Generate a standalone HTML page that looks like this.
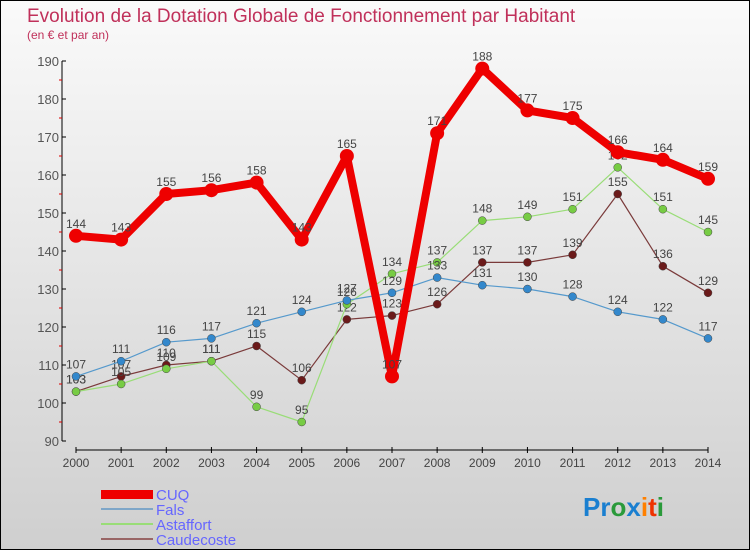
<!DOCTYPE html>
<html><head><meta charset="utf-8"><style>
body{margin:0;width:750px;height:550px;overflow:hidden;font-family:"Liberation Sans",sans-serif}
#wrap{position:relative;width:748px;height:548px;border:1px solid #000;background:linear-gradient(#fafafa,#cfcfcf)}
</style></head><body>
<div id="wrap">
<svg id="chart" width="748" height="548" style="position:absolute;left:0;top:0">
<text x="26" y="21" font-size="19" fill="#c0305a">Evolution de la Dotation Globale de Fonctionnement par Habitant</text>
<text x="26" y="38" font-size="12" fill="#c0305a">(en € et par an)</text>
<g id="axes"></g><g id="series"></g>
<g>
<rect x="100" y="489" width="52" height="9" fill="#e00"/>
<text x="155" y="499" font-size="15" fill="#6666ff">CUQ</text>
<rect x="100" y="507" width="52" height="2" fill="#7ea6c8"/>
<text x="155" y="514" font-size="15" fill="#6666ff">Fals</text>
<rect x="100" y="522" width="52" height="2" fill="#99dd77"/>
<text x="155" y="529" font-size="15" fill="#6666ff">Astaffort</text>
<rect x="100" y="537" width="52" height="2" fill="#996666"/>
<text x="155" y="544" font-size="15" fill="#6666ff">Caudecoste</text>
</g>
<text x="582" y="515" font-size="26" font-weight="bold"><tspan fill="#1a7fd0">Pr</tspan><tspan fill="#2a9a3a">o</tspan><tspan fill="#1a7fd0">x</tspan><tspan fill="#ff8000">i</tspan><tspan fill="#ee3300">t</tspan><tspan fill="#2a9a3a">i</tspan></text>
</svg>
</div>
<script>
const years=[2000,2001,2002,2003,2004,2005,2006,2007,2008,2009,2010,2011,2012,2013,2014];
const cuq=[144,143,155,156,158,143,165,107,171,188,177,175,166,164,159];
const fals=[107,111,116,117,121,124,127,129,133,131,130,128,124,122,117];
const astaffort=[103,105,109,111,99,95,126,134,137,148,149,151,162,151,145];
const caudecoste=[103,107,110,111,115,106,122,123,126,137,137,139,155,136,129];
const yTicks=[90,100,110,120,130,140,150,160,170,180,190];
const NS='http://www.w3.org/2000/svg';
const xs=i=>75+i*(707-75)/(years.length-1);
const ys=v=>440-(v-90)*3.8;
function mk(tag,attrs,parent){const e=document.createElementNS(NS,tag);for(const k in attrs)e.setAttribute(k,attrs[k]);parent.appendChild(e);return e;}
const ax=document.getElementById('axes');
let l=mk('line',{x1:61,y1:60,x2:61,y2:440,stroke:'#000'},ax);


l=mk('line',{x1:75,y1:449,x2:707,y2:449,stroke:'#000'},ax);


yTicks.forEach(v=>{mk('line',{x1:61,x2:65,y1:ys(v),y2:ys(v),stroke:'#000'},ax);
 if(v<190)mk('line',{x1:58,x2:61,y1:ys(v+5),y2:ys(v+5),stroke:'#d00'},ax);
 const t=mk('text',{x:58,y:ys(v)+5,'font-size':13,fill:'#555','text-anchor':'end'},ax);t.textContent=v;
 
 });
years.forEach((y,i)=>{mk('line',{x1:xs(i),x2:xs(i),y1:446,y2:452,stroke:'#000'},ax);
 const t=mk('text',{x:xs(i),y:466,'font-size':12,fill:'#444','text-anchor':'middle'},ax);t.textContent=y;
 
 });
const sg=document.getElementById('series');
function draw(name,vals,color,dot,w,r){
 const g=mk('g',{},sg);
 
 
 mk('polyline',{points:vals.map((v,i)=>xs(i)+','+ys(v)).join(' '),fill:'none',stroke:color,'stroke-width':w,'stroke-linejoin':'round'},g);
 vals.forEach((v,i)=>{const c=mk('circle',{cx:xs(i),cy:ys(v),r:r,fill:dot,stroke:w>3?'none':'#444','stroke-width':0.5},g);
  
  
  const t=mk('text',{x:xs(i),y:ys(v)-(w>3?8:8),'font-size':12,fill:'#444','text-anchor':'middle'},g);t.textContent=v;
  
  });
}
draw('caudecoste',caudecoste,'#7a3a3a','#6b1a1a',1.2,4);
draw('astaffort',astaffort,'#99dd77','#77cc44',1.2,4);
draw('fals',fals,'#5599cc','#3388cc',1.2,4);
draw('cuq',cuq,'#ee0000','#ee0000',8,7);
</script>
</body></html>
